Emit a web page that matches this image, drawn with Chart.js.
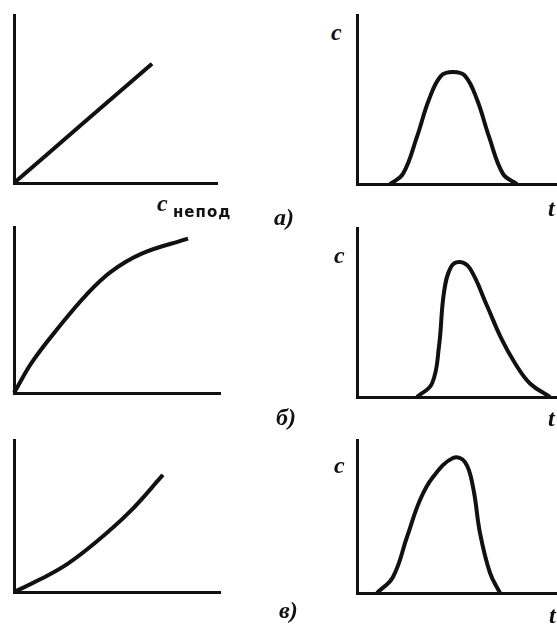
<!DOCTYPE html>
<html>
<head>
<meta charset="utf-8">
<script src="https://cdn.jsdelivr.net/npm/chart.js@4"></script>
<style>
  body { margin: 0; background: #fff; width: 557px; height: 626px; overflow: hidden; position: relative; }
  .panel { position: absolute; }
  .lbl { position: absolute; color: #111; line-height: 1; white-space: nowrap; }
  .it { font-family: "Liberation Serif"; font-style: italic; font-weight: bold; font-size: 24px; }
  .sub { font-family: "DejaVu Sans"; font-weight: bold; font-size: 15px; letter-spacing: 1px; }
</style>
</head>
<body>

<div class="panel" style="left:4px;top:5px;width:223px;height:188px"><canvas id="isoA"></canvas></div>
<div class="panel" style="left:347px;top:5px;width:220px;height:189px"><canvas id="chrA"></canvas></div>
<div class="panel" style="left:4px;top:217px;width:226px;height:186px"><canvas id="isoB"></canvas></div>
<div class="panel" style="left:347px;top:218px;width:220px;height:189px"><canvas id="chrB"></canvas></div>
<div class="panel" style="left:4px;top:430px;width:226px;height:172px"><canvas id="isoV"></canvas></div>
<div class="panel" style="left:347px;top:430px;width:220px;height:173px"><canvas id="chrV"></canvas></div>

<div class="lbl it" style="left:157px;top:191px">c</div>
<div class="lbl sub" style="left:173px;top:205px">непод</div>
<div class="lbl it" style="left:331px;top:20px">c</div>
<div class="lbl it" style="left:548px;top:196px">t</div>
<div class="lbl it" style="left:274px;top:205px">а)</div>

<div class="lbl it" style="left:334px;top:243px">c</div>
<div class="lbl it" style="left:548px;top:406px">t</div>
<div class="lbl it" style="left:276px;top:405px">б)</div>

<div class="lbl it" style="left:334px;top:453px">c</div>
<div class="lbl it" style="left:549px;top:603px">t</div>
<div class="lbl it" style="left:279px;top:598px">в)</div>

<script>
// изотермы (слева): c сорб от c непод
const isoAX = [0, 3.4, 6.8];
const isoAY = [0, 3.55, 7.1];
const isoBX = [0, 0.9, 2.2, 3.5, 4.7, 6.2, 8.45];
const isoBY = [0, 1.9, 4.0, 5.9, 7.3, 8.4, 9.3];
const isoVX = [0, 1.3, 2.6, 4.0, 5.6, 7.23];
const isoVY = [0, 0.85, 1.85, 3.3, 5.25, 7.70];

// хроматограммы (справа): c от t
const chrAX = [1.65, 2.3, 3.0, 3.6, 4.2, 4.8, 5.4, 6.0, 6.6, 7.3, 8.0];
const chrAY = [0, 0.6, 2.8, 5.0, 6.4, 6.63, 6.4, 5.0, 2.8, 0.6, 0];
const chrBX = [3.0, 3.75, 4.1, 4.35, 4.7, 5.15, 5.65, 6.5, 7.2, 7.9, 8.65, 9.65];
const chrBY = [0, 0.8, 3.0, 6.2, 7.7, 7.99, 7.6, 5.4, 3.5, 2.0, 0.8, 0];
const chrVX = [1.0, 1.8, 2.5, 3.15, 3.8, 4.8, 5.4, 5.8, 6.15, 6.65, 7.15];
const chrVY = [0, 1.05, 3.66, 6.08, 7.58, 8.82, 8.56, 6.93, 3.92, 1.31, 0];

const ink = '#111';

function toPoints(xs, ys) {
    const pts = [];
    for (let i = 0; i < xs.length; i++) {
        pts.push({x: xs[i], y: ys[i]});
    }
    return pts;
}

function axis() {
    return {
        type: 'linear',
        min: 0,
        max: 10,
        ticks: { display: false },
        grid: { display: false, drawTicks: false, tickLength: 0 },
        border: { display: true, color: ink, width: 3 }
    };
}

function makePanel(id, xs, ys) {
    new Chart(document.getElementById(id), {
        type: 'scatter',
        data: {
            datasets: [{
                data: toPoints(xs, ys),
                showLine: true,
                borderColor: ink,
                borderWidth: 4,
                pointRadius: 0,
                tension: 0.4,
                clip: false
            }]
        },
        options: {
            responsive: true,
            maintainAspectRatio: false,
            animation: false,
            layout: { padding: 10 },
            plugins: { legend: { display: false }, tooltip: { enabled: false } },
            scales: { x: axis(), y: axis() }
        }
    });
}

makePanel('isoA', isoAX, isoAY);
makePanel('chrA', chrAX, chrAY);
makePanel('isoB', isoBX, isoBY);
makePanel('chrB', chrBX, chrBY);
makePanel('isoV', isoVX, isoVY);
makePanel('chrV', chrVX, chrVY);
</script>
</body>
</html>
